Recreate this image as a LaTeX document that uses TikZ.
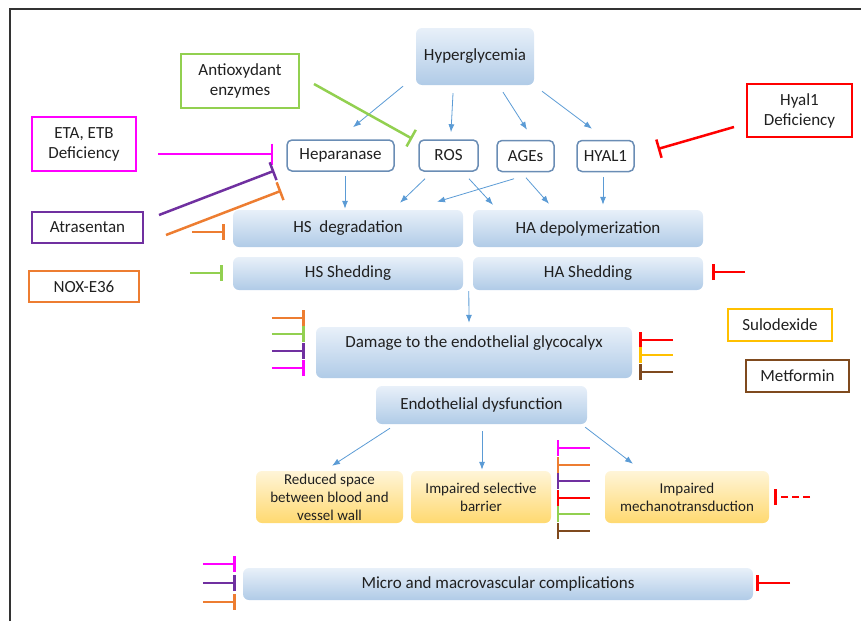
\documentclass[tikz,border=0pt]{standalone}
\usepackage{fontspec}
\setmainfont{Carlito}
\usepackage{tikz}
\usetikzlibrary{positioning, arrows.meta, calc}

\definecolor{arrblue}{HTML}{5B9BD5}
\definecolor{boxline}{HTML}{6A8DB5}
\definecolor{bluetop}{HTML}{E8F0F9}
\definecolor{bluebot}{HTML}{B0CBE7}
\definecolor{yeltop}{HTML}{FFF5D8}
\definecolor{yelbot}{HTML}{FFD970}
\definecolor{inhgreen}{HTML}{92D050}
\definecolor{inhmagenta}{HTML}{FF00FF}
\definecolor{inhpurple}{HTML}{7030A0}
\definecolor{inhorange}{HTML}{ED7D31}
\definecolor{inhred}{HTML}{FF0000}
\definecolor{inhgold}{HTML}{FFC000}
\definecolor{inhbrown}{HTML}{7F4A1E}
\definecolor{txt}{HTML}{202020}

\tikzset{
  stage/.style={rectangle, rounded corners=6pt, top color=bluetop, bottom color=bluebot, inner sep=0pt, text=txt, font=\fontsize{17}{20}\selectfont},
  effect/.style={rectangle, rounded corners=6pt, top color=yeltop, bottom color=yelbot, inner sep=0pt, align=center, text=txt, font=\fontsize{15}{18}\selectfont},
  factor/.style={draw=boxline, line width=1.5pt, rectangle, rounded corners=5pt, fill=white, inner sep=0pt, minimum height=31pt, text=txt, font=\fontsize{17}{20}\selectfont},
  drug/.style={draw, line width=2pt, rectangle, inner sep=0pt, align=center, text=txt, font=\fontsize{17}{20}\selectfont},
  arr/.style={->, arrblue, line width=0.8pt},
  inh/.style={-{Bar[width=16pt]}, line width=2.5pt},
  biginh/.style={-{Bar[width=19pt]}, line width=2.5pt}
}

\begin{document}
\begin{tikzpicture}[x=1pt, y=-1pt, >={Latex[length=8pt,width=6pt]}]
    \useasboundingbox (0,0) rectangle (861,621);
    \draw [line width=2pt, black!80] (10,621) -- (10,9) -- (861,9);

    \node [stage, minimum width=118pt, minimum height=57pt] (hyper) at (475,56.5) {Hyperglycemia};
    \node [drug, draw=inhgreen, minimum width=118pt, minimum height=54pt] (antiox) at (240,81) {Antioxydant\\enzymes};
    \node [drug, draw=inhmagenta, minimum width=104pt, minimum height=54pt] (eta) at (84,144) {ETA, ETB\\Deficiency};
    \node [drug, draw=inhred, minimum width=105pt, minimum height=53pt] (hyaldef) at (799.5,110.5) {Hyal1\\Deficiency};
    \node [drug, draw=inhpurple, minimum width=111pt, minimum height=31pt] (atras) at (87.5,227.5) {Atrasentan};
    \node [drug, draw=inhorange, minimum width=110pt, minimum height=31pt] (nox) at (84,286.5) {NOX-E36};
    \node [drug, draw=inhgold, minimum width=104pt, minimum height=32pt] (sulo) at (780,325) {Sulodexide};
    \node [drug, draw=inhbrown, minimum width=103pt, minimum height=32pt] (metf) at (797.5,376) {Metformin};

    \node [factor, minimum width=107pt] (hep) at (340.5,155.5) {Heparanase};
    \node [factor, minimum width=59pt] (ros) at (448.5,155.5) {ROS};
    \node [factor, minimum width=57pt] (ages) at (525.5,156) {AGEs};
    \node [factor, minimum width=57pt] (hyal) at (605.5,156) {HYAL1};

    \node [stage, minimum width=230pt, minimum height=37pt] (hsdeg) at (348,228.5) {HS\ \ degradation};
    \node [stage, minimum width=230pt, minimum height=37pt] (hadep) at (588,228.5) {HA depolymerization};
    \node [stage, minimum width=230pt, minimum height=33pt] (hsshed) at (348,273.5) {HS Shedding};
    \node [stage, minimum width=230pt, minimum height=33pt] (hashed) at (588,273.5) {HA Shedding};
    \node [stage, minimum width=316pt, minimum height=51pt, text depth=22pt] (damage) at (474,352.5) {Damage to the endothelial glycocalyx};
    \node [stage, minimum width=211pt, minimum height=38pt] (endo) at (481.5,405) {Endothelial dysfunction};

    \node [effect, minimum width=147pt, minimum height=52pt] (reduced) at (329.5,497) {Reduced space\\between blood and\\vessel wall};
    \node [effect, minimum width=140pt, minimum height=52pt] (barrier) at (481,497) {Impaired selective\\barrier};
    \node [effect, minimum width=164pt, minimum height=52pt] (mech) at (687,497) {Impaired\\mechanotransduction};
    \node [stage, minimum width=510pt, minimum height=32pt] (micro) at (498,584) {Micro and macrovascular complications};

    % blue arrows
    \draw [arr] ($(hyper.south)+(-72,1)$) -- ($(hep.north)+(12.5,-12)$);
    \draw [arr] ($(hyper.south)+(-22,8)$) -- ($(ros.north)+(2.5,-7)$);
    \draw [arr] ($(hyper.south)+(28,7)$) -- ($(ages.north)+(1.5,-10)$);
    \draw [arr] ($(hyper.south)+(67,6)$) -- ($(hyal.north)+(-13.5,-11)$);
    \draw [arr] ($(hep.south)+(4.5,4)$) -- ($(hsdeg.north)+(-3,-1)$);
    \draw [arr] ($(ros.south)+(-23.5,7)$) -- ($(hsdeg.north)+(52,-7)$);
    \draw [arr] ($(ages.south)+(-11.5,6.5)$) -- ($(hsdeg.north)+(89,-8)$);
    \draw [arr] ($(ros.south)+(20.5,7)$) -- ($(hadep.north)+(-95,-5)$);
    \draw [arr] ($(ages.south)+(0.5,5.5)$) -- ($(hadep.north)+(-39,-6)$);
    \draw [arr] ($(hyal.south)+(-2.5,4.5)$) -- ($(hadep.north)+(15,-5)$);
    \draw [arr] ($(hashed.south west)+(-4,1)$) -- ($(damage.north)+(-5,-4)$);
    \draw [arr] ($(endo.south)+(-91.5,4)$) -- ($(reduced.north)+(2.5,-5)$);
    \draw [arr] ($(endo.south)+(0.5,7)$) -- ($(barrier.north)+(1,-1)$);
    \draw [arr] ($(endo.south east)+(-2,3)$) -- ($(mech.north)+(-54,-7)$);

    % inhibitors from the boxes
    \draw [biginh, inhgreen] ($(antiox.east)+(14,3)$) -- ($(ros.north west)+(-6,-0.5)$);
    \draw [-{Bar[width=21pt]}, line width=2.5pt, inhmagenta] ($(eta.east)+(21,10)$) -- ($(hep.west)+(-13,-1.5)$);
    \draw [biginh, inhpurple] ($(atras.east)+(15,-12.5)$) -- ($(hep.south west)+(-12,-1)$);
    \draw [biginh, inhorange] ($(nox.north east)+(26,-35)$) -- ($(hep.south west)+(-5,19)$);
    \draw [biginh, inhred] ($(hyaldef.west)+(-12,16.5)$) -- ($(hyal.east)+(23,-7)$);

    % short inhibitors
    \coordinate (hsdegin) at ($(hsdeg.west)+(-41,3.5)$);
    \draw [inh, inhorange] (hsdegin) -- ($(hsdeg.west)+(-8,3.5)$);
    \coordinate (hsshedin) at ($(hsshed.west)+(-43,-0.5)$);
    \draw [inh, inhgreen] (hsshedin) -- ($(hsshed.west)+(-10,-0.5)$);
    \coordinate (hashedin) at ($(hashed.east)+(42,-1.5)$);
    \draw [inh, inhred] (hashedin) -- ($(hashed.east)+(9,-1.5)$);

    \foreach \clr/\dy [count=\i] in {inhorange/-34.5, inhgreen/-18.5, inhpurple/-1.5, inhmagenta/15.5} {
        \coordinate (dmgl\i) at ($(damage.west)+(-44,\dy)$);
        \draw [inh, \clr] (dmgl\i) -- ($(damage.west)+(-11,\dy)$);
    }
    \foreach \clr/\dy [count=\i] in {inhred/-12.5, inhgold/2.5, inhbrown/19.5} {
        \coordinate (dmgr\i) at ($(damage.east)+(41,\dy)$);
        \draw [inh, \clr] (dmgr\i) -- ($(damage.east)+(7,\dy)$);
    }
    \foreach \clr/\dy [count=\i] in {inhmagenta/-49, inhorange/-32, inhpurple/-16, inhred/1, inhgreen/17, inhbrown/34} {
        \coordinate (midin\i) at ($(mech.west)+(-15,\dy)$);
        \draw [inh, \clr] (midin\i) -- ($(mech.west)+(-48,\dy)$);
    }
    \coordinate (mechin) at ($(mech.east)+(41,0)$);
    \draw [inh, inhred, dash pattern=on 7pt off 4pt] (mechin) -- ($(mech.east)+(5,0)$);

    \foreach \clr/\dy [count=\i] in {inhmagenta/-20, inhpurple/-1, inhorange/18} {
        \coordinate (microl\i) at ($(micro.west)+(-40,\dy)$);
        \draw [inh, \clr] (microl\i) -- ($(micro.west)+(-7,\dy)$);
    }
    \coordinate (micror) at ($(micro.east)+(37,-1)$);
    \draw [inh, inhred] (micror) -- ($(micro.east)+(3,-1)$);
\end{tikzpicture}
\end{document}
